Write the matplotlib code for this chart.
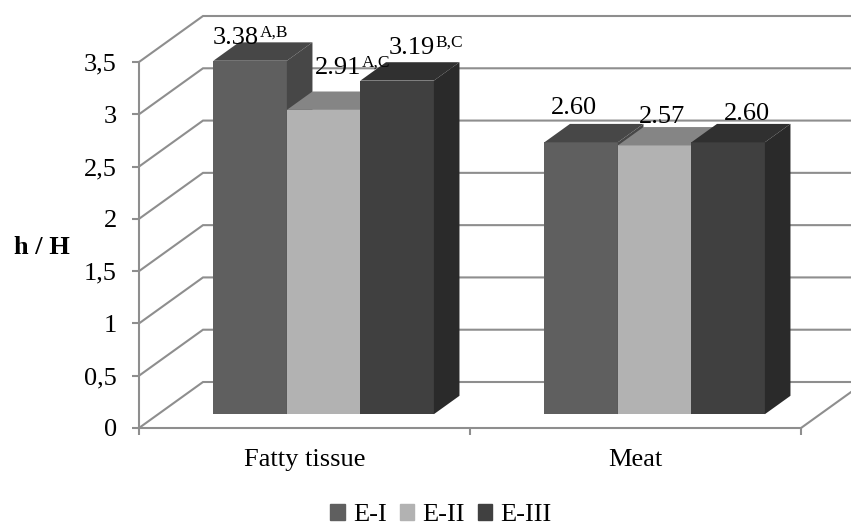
import matplotlib
matplotlib.use('Agg')
import matplotlib.pyplot as plt
from matplotlib.patches import Patch, Polygon

plt.rcParams['font.family'] = ['Liberation Serif', 'DejaVu Serif']

categories = ['Fatty tissue', 'Meat']
series_names = ['E-I', 'E-II', 'E-III']
e1_values = [3.38, 2.60]
e2_values = [2.91, 2.57]
e3_values = [3.19, 2.60]
y_ticks = [0, 0.5, 1, 1.5, 2, 2.5, 3, 3.5]
y_tick_labels = ['0', '0,5', '1', '1,5', '2', '2,5', '3', '3,5']
e1_letters = ['A,B', '']
e2_letters = ['A,C', '']
e3_letters = ['B,C', '']

# front, top and side colours of each series
e1_colors = ('#5f5f5f', '#474747', '#474747')
e2_colors = ('#b2b2b2', '#858585', '#858585')
e3_colors = ('#404040', '#303030', '#2a2a2a')
grid_color = '#8e8e8e'

W, H = 851, 527
fig = plt.figure(figsize=(W / 100, H / 100), dpi=100, facecolor='white')
ax = fig.add_axes([139 / W, 1 - 428 / H, (801 - 139) / W, (428 - 62) / H])
ax.set_xlim(0, 2)
ax.set_ylim(0, 3.5)

# depth of the floor in data units (64 px across, 46 px up)
depth_x = 64 / 331
depth_y = 46 / (366 / 3.5)
bar_w = 73.5 / 331
d_front, d_back = 0.3, 0.7

# back wall gridlines and left wall diagonals
for v in y_ticks:
    ax.plot([0, depth_x, 2 + depth_x], [v, v + depth_y, v + depth_y],
            color=grid_color, lw=1.5, clip_on=False, zorder=1, solid_joinstyle='miter')
ax.plot([2, 2 + depth_x], [0, depth_y], color=grid_color, lw=1.5, clip_on=False, zorder=1)


def draw_bar(x, v, colors):
    x0 = x + d_front * depth_x
    x1 = x0 + bar_w
    sx = (d_back - d_front) * depth_x
    sy = (d_back - d_front) * depth_y
    y0 = d_front * depth_y
    y1 = v + y0
    ax.add_patch(Polygon([(x0, y0), (x1, y0), (x1, y1), (x0, y1)], fc=colors[0], ec='none',
                         clip_on=False, zorder=3))
    ax.add_patch(Polygon([(x0, y1), (x1, y1), (x1 + sx, y1 + sy), (x0 + sx, y1 + sy)], fc=colors[1],
                         ec='none', clip_on=False, zorder=3))
    ax.add_patch(Polygon([(x1, y0), (x1 + sx, y0 + sy), (x1 + sx, y1 + sy), (x1, y1)], fc=colors[2],
                         ec='none', clip_on=False, zorder=3))
    return x0


# label offsets in pixels from the left of the bar front top
label_dx = [[-1, 28, 28], [7, 21, 33]]
label_dy = [[17, 36, 27], [28, 22, 22]]

all_values = [e1_values, e2_values, e3_values]
all_colors = [e1_colors, e2_colors, e3_colors]
all_letters = [e1_letters, e2_letters, e3_letters]
for c in range(len(categories)):
    for s in range(3):
        x = c + 1 / 6 + s * bar_w
        x0 = draw_bar(x, all_values[s][c], all_colors[s])
        top = all_values[s][c] + d_front * depth_y
        ax.annotate(f'{all_values[s][c]:.2f}', (x0, top), xytext=(label_dx[c][s], label_dy[c][s]),
                    textcoords='offset pixels', fontsize=19, ha='left', va='baseline',
                    annotation_clip=False, zorder=5, color='black')
        if all_letters[s][c]:
            ax.annotate(all_letters[s][c], (x0, top), xytext=(label_dx[c][s] + 47, label_dy[c][s] + 7),
                        textcoords='offset pixels', fontsize=12.5, ha='left', va='baseline',
                        annotation_clip=False, zorder=5, color='black')

for name in ['top', 'right']:
    ax.spines[name].set_visible(False)
for name in ['left', 'bottom']:
    ax.spines[name].set_color(grid_color)
    ax.spines[name].set_linewidth(1.5)
ax.patch.set_alpha(0)

ax.set_yticks(y_ticks)
ax.set_yticklabels(y_tick_labels, fontsize=19)
ax.tick_params(axis='y', length=5, width=1.5, color=grid_color, pad=11)
ax.set_xticks([0, 1, 2])
ax.set_xticklabels([])
ax.tick_params(axis='x', which='major', length=5, width=1.5, color=grid_color)
ax.set_xticks([0.5, 1.5], minor=True)
ax.set_xticklabels(categories, minor=True, fontsize=19)
ax.tick_params(axis='x', which='minor', length=0, pad=15)

fig.text(42 / W, 1 - 247 / H, 'h / H', fontsize=19, fontweight='bold', ha='center', va='center')

handles = [Patch(color=c[0]) for c in all_colors]
fig.legend(handles, series_names, loc='lower center', bbox_to_anchor=(441 / W, -0.044), ncol=3, frameon=False,
           fontsize=19, handlelength=0.55, handleheight=0.55, handletextpad=0.3, columnspacing=0.5)

fig.savefig('out.png', dpi=100)
